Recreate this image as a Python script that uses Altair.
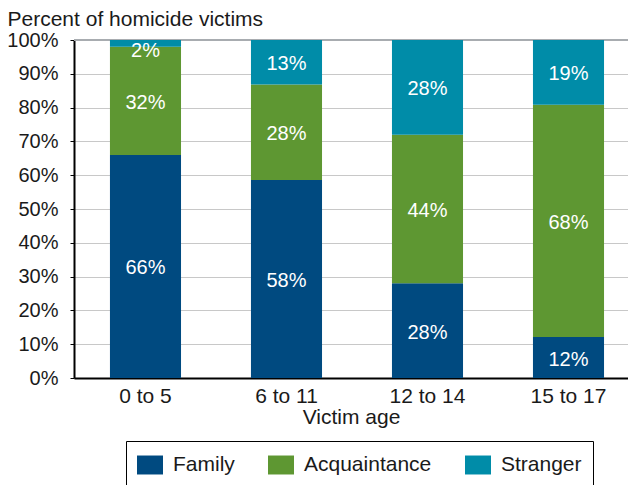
import altair as alt
import pandas as pd

ages = ["0 to 5", "6 to 11", "12 to 14", "15 to 17"]
series = ["Family", "Acquaintance", "Stranger"]
family = [66, 58, 28, 12]
acquaintance = [32, 28, 44, 68]
stranger = [2, 13, 28, 19]
colors = ["#004a80", "#5e9732", "#008ca8"]
y_ticks = [0, 0.1, 0.2, 0.3, 0.4, 0.5, 0.6, 0.7, 0.8, 0.9, 1.0]

rows = []
for i, age in enumerate(ages):
    vals = [family[i], acquaintance[i], stranger[i]]
    total = sum(vals)
    cum = 0
    for s, v in zip(series, vals):
        start = cum / total
        cum += v
        end = cum / total
        rows.append(dict(age=age, series=s, value=v, start=start, end=end,
                         mid=min((start + end) / 2, 0.973), label=f"{v}%"))
df = pd.DataFrame(rows)

FONT = "Liberation Sans"

x_scale = alt.Scale(paddingInner=0.496, paddingOuter=0.2125, align=0.6)
x_axis = alt.Axis(title="Victim age", labelAngle=0, ticks=False, tickSize=0,
                  domainColor="black", domainWidth=2,
                  labelFontSize=21, titleFontSize=21, labelColor="#1a1a1a",
                  titleColor="#1a1a1a", labelPadding=7, titlePadding=0,
                  titleFontWeight="normal", grid=False)

y_scale = alt.Scale(domain=[0, 1], nice=False)
y_axis = alt.Axis(format="%", values=y_ticks, tickSize=4, tickColor="black",
                  domainColor="black", domainWidth=2, gridColor="#c8c8c8",
                  labelFontSize=20, labelPadding=12, labelColor="#1a1a1a",
                  labelOverlap=False, tickCount=11,
                  title="Percent of homicide victims", titleAngle=0,
                  titleAlign="left", titleBaseline="alphabetic",
                  titleX=-67, titleY=-15, titleFontSize=21,
                  titleFontWeight="normal", titleColor="#1a1a1a")

base = alt.Chart(df)

bars = base.mark_bar().encode(
    x=alt.X("age:N", sort=ages, scale=x_scale, axis=x_axis),
    y=alt.Y("start:Q", scale=y_scale, axis=y_axis),
    y2="end:Q",
    color=alt.Color("series:N", sort=series,
                    scale=alt.Scale(domain=series, range=colors),
                    legend=alt.Legend(title=None, orient="none", legendX=52, legendY=401,
                                      direction="horizontal", columns=3,
                                      symbolType="M-1,-0.73L1,-0.73L1,0.73L-1,0.73Z",
                                      symbolSize=676, symbolStrokeWidth=0,
                                      symbolOpacity=1,
                                      labelFontSize=21, labelColor="#1a1a1a",
                                      labelOffset=10, columnPadding=33,
                                      padding=11, strokeColor="black")),
)

top_rule = alt.Chart(pd.DataFrame({"v": [1.0]})).mark_rule(
    color="#a8acb0", strokeWidth=2).encode(
    y=alt.Y("v:Q", scale=y_scale, axis=y_axis))

labels = base.mark_text(color="white", fontSize=20, baseline="middle", dy=2).encode(
    x=alt.X("age:N", sort=ages, scale=x_scale, axis=x_axis),
    y=alt.Y("mid:Q", scale=y_scale, axis=y_axis),
    text="label:N",
)

chart = alt.layer(top_rule, bars, labels).properties(
    width=554, height=338,
    autosize=alt.AutoSizeParams(type="none"),
    padding={"left": 66, "top": 32, "right": 0, "bottom": 107},
).configure(font=FONT).configure_view(stroke=None)

chart.save("out.html", embed_options={"renderer": "svg", "actions": False})
